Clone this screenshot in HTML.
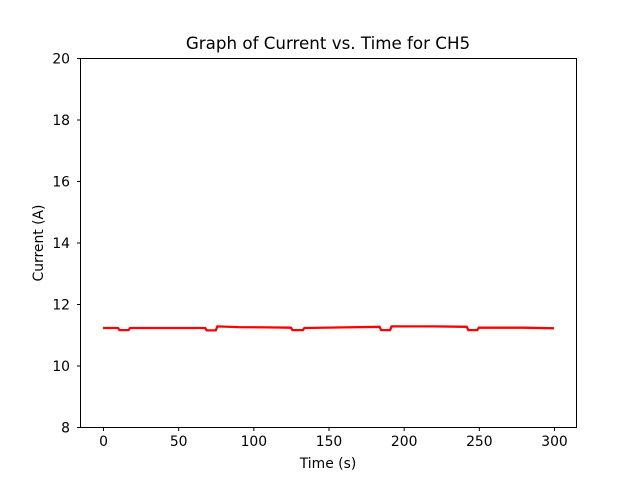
<!DOCTYPE html>
<html><head><meta charset="utf-8"><style>
body{margin:0;background:#fff}
svg text{font-family:"DejaVu Sans","Liberation Sans",sans-serif;fill:#000}
</style></head><body>
<svg id="chart" width="640" height="480">
<rect width="640" height="480" fill="#fff"/>
<text x="328" y="49" font-size="16.7" text-anchor="middle">Graph of Current vs. Time for CH5</text>
<g id="xt"></g><g id="yt"></g>
<path id="line" fill="none" stroke="#ff0000" stroke-width="2.3"/>
<rect x="80.5" y="58.5" width="496" height="369" fill="none" stroke="#000" stroke-width="1"/>
<text x="328" y="468" font-size="13.9" text-anchor="middle">Time (s)</text>
<text transform="translate(43,243) rotate(-90)" font-size="13.9" text-anchor="middle">Current (A)</text>
</svg>
<script>
const times=[0,10,11,17,18,40,68,69,75,76,90,110,125,126,133,134,160,184,185,191,192,220,242,243,249,250,280,300];
const currents=[11.22,11.22,11.15,11.15,11.22,11.22,11.22,11.14,11.14,11.27,11.25,11.24,11.23,11.15,11.15,11.22,11.24,11.26,11.15,11.15,11.27,11.27,11.26,11.15,11.15,11.23,11.23,11.21];
const xTicks=[0,50,100,150,200,250,300];
const yTicks=[8,10,12,14,16,18,20];
const X=v=>103+v*(451/300);
const Y=v=>427-(v-8)*(369/12);
const ns="http://www.w3.org/2000/svg";
let d="";
times.forEach((t,i)=>{d+=(i?"L":"M")+X(t).toFixed(1)+","+Y(currents[i]).toFixed(1);});
document.getElementById("line").setAttribute("d",d);
const xt=document.getElementById("xt"),yt=document.getElementById("yt");
xTicks.forEach(v=>{
 const l=document.createElementNS(ns,"line");
 l.setAttribute("x1",X(v)+0.5);l.setAttribute("x2",X(v)+0.5);l.setAttribute("y1",427.5);l.setAttribute("y2",431);l.setAttribute("stroke","#000");
 
 
 xt.appendChild(l);
 const t=document.createElementNS(ns,"text");
 t.setAttribute("x",X(v)+0.5);t.setAttribute("y",446);t.setAttribute("font-size","13.9");t.setAttribute("text-anchor","middle");t.textContent=v;
 
 
 xt.appendChild(t);
});
yTicks.forEach(v=>{
 const l=document.createElementNS(ns,"line");
 l.setAttribute("x1",77);l.setAttribute("x2",80.5);l.setAttribute("y1",Y(v)+0.5);l.setAttribute("y2",Y(v)+0.5);l.setAttribute("stroke","#000");
 
 
 yt.appendChild(l);
 const t=document.createElementNS(ns,"text");
 t.setAttribute("x",70);t.setAttribute("y",Y(v)+5.5);t.setAttribute("font-size","13.9");t.setAttribute("text-anchor","end");t.textContent=v;
 
 
 yt.appendChild(t);
});
</script>
</body></html>
